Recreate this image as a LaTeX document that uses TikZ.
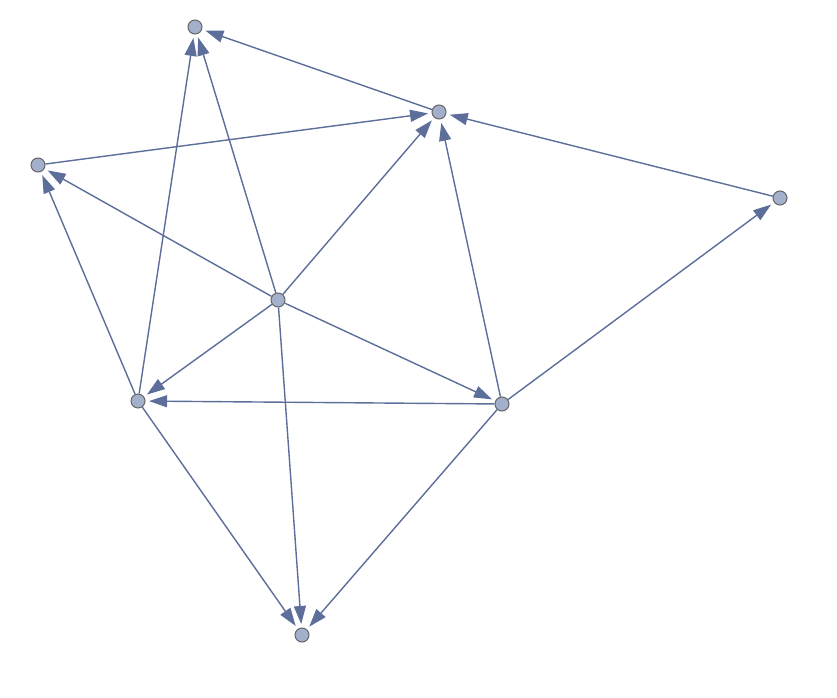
\documentclass[tikz,border=0pt]{standalone}
\usepackage{tikz}
\usetikzlibrary{arrows.meta}
\definecolor{edgecol}{rgb}{0.36,0.43,0.6}
\definecolor{vertcol}{rgb}{0.64,0.69,0.8}

\begin{document}
\begin{tikzpicture}[x=0.02cm,y=-0.02cm,->,>={Triangle[length=3.6mm,width=2.4mm]},
	edge/.style={draw=edgecol,line width=0.8pt,shorten >=2pt},
	vert/.style={circle,draw=black!60,fill=vertcol,line width=0.6pt,inner sep=0pt,minimum size=0.28cm}]
\useasboundingbox (0,0) rectangle (837,697);
\node [vert] (a) at (195,27) {};
\node [vert] (b) at (439,112) {};
\node [vert] (c) at (38,165) {};
\node [vert] (d) at (780,198) {};
\node [vert] (e) at (278,300) {};
\node [vert] (f) at (138,401) {};
\node [vert] (g) at (502,404) {};
\node [vert] (h) at (302,635) {};
	\draw [edge] (b) to (a);
	\draw [edge] (c) to (b);
	\draw [edge] (d) to (b);
	\draw [edge] (e) to (a);
	\draw [edge] (f) to (a);
	\draw [edge] (e) to (c);
	\draw [edge] (e) to (b);
	\draw [edge] (e) to (f);
	\draw [edge] (e) to (g);
	\draw [edge] (e) to (h);
	\draw [edge] (f) to (c);
	\draw [edge] (g) to (f);
	\draw [edge] (g) to (b);
	\draw [edge] (g) to (d);
	\draw [edge] (g) to (h);
	\draw [edge] (f) to (h);
\end{tikzpicture}
\end{document}
